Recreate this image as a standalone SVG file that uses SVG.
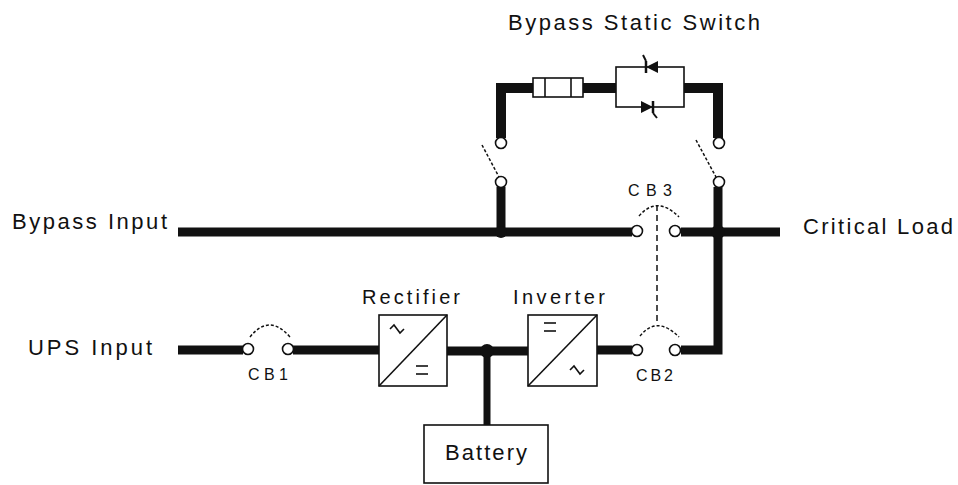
<svg xmlns="http://www.w3.org/2000/svg" width="958" height="485" viewBox="0 0 958 485">
<style>
  text { font-family: "Liberation Sans", Arial, sans-serif; fill: #111; }
  .lbl { font-size: 22px; }
  .mid { font-size: 20px; }
  .cb { font-size: 16px; }
  .bus { fill: none; stroke: #111; stroke-width: 9; stroke-linejoin: miter; stroke-linecap: butt; }
  .top { fill: none; stroke: #111; stroke-width: 10; stroke-linejoin: miter; }
  .thin { fill: #fff; stroke: #111; stroke-width: 1.6; }
  .term { fill: #fff; stroke: #111; stroke-width: 1.6; }
  .dash { fill: none; stroke: #111; stroke-width: 1.5; stroke-dasharray: 3 2; }
  .dash2 { fill: none; stroke: #111; stroke-width: 1.5; stroke-dasharray: 6 4; }
  .sym { fill: none; stroke: #111; stroke-width: 1.6; }
  .dot { fill: #111; }
</style>
<rect width="958" height="485" fill="#fff"/>

<g id="connectors">
  <path class="bus" d="M178 232 H632"/>
  <path class="bus" d="M681 232 H780"/>
  <path class="bus" d="M178 350 H243"/>
  <path class="bus" d="M293 350 H379"/>
  <path class="bus" d="M447 351 H528"/>
  <path class="bus" d="M597 350 H632"/>
  <path class="bus" d="M681 350 H718 V187"/>
  <path class="bus" d="M501 187 V232"/>
  <path class="bus" style="stroke-width:7" d="M487 351 V425"/>
  <path class="top" d="M501 138 V88 H533"/>
  <path class="top" d="M583 88 H616"/>
  <path class="top" d="M684 88 H718 V138"/>
  <path class="dash2" d="M657 205 V323"/>
  <circle class="dot" cx="501" cy="232" r="6"/>
  <circle class="dot" cx="718" cy="232" r="7"/>
  <circle class="dot" cx="487" cy="351" r="7"/>
</g>

<g id="label-bypass-static-switch">
  <text class="lbl" x="508" y="30" textLength="252" lengthAdjust="spacing">Bypass Static Switch</text>
</g>
<g id="label-bypass-input">
  <text class="lbl" x="12" y="229" textLength="155" lengthAdjust="spacing">Bypass Input</text>
</g>
<g id="label-ups-input">
  <text class="lbl" x="28" y="355" textLength="124" lengthAdjust="spacing">UPS Input</text>
</g>
<g id="label-critical-load">
  <text class="lbl" x="803" y="234" textLength="150" lengthAdjust="spacing">Critical Load</text>
</g>

<g id="fuse">
  <rect class="thin" x="533" y="78" width="50" height="19"/>
  <line class="sym" x1="545" y1="78" x2="545" y2="97"/>
  <line class="sym" x1="571" y1="78" x2="571" y2="97"/>
</g>

<g id="static-switch">
  <rect class="thin" x="616" y="67" width="68" height="40"/>
  <line x1="646" y1="61" x2="646" y2="73" stroke="#111" stroke-width="2.5"/>
  <polygon class="dot" points="646,67 658,61 658,73"/>
  <line x1="646" y1="61" x2="643" y2="55" stroke="#111" stroke-width="2"/>
  <line x1="653" y1="101" x2="653" y2="113" stroke="#111" stroke-width="2.5"/>
  <polygon class="dot" points="653,107 641,101 641,113"/>
  <line x1="653" y1="113" x2="657" y2="118" stroke="#111" stroke-width="2"/>
</g>

<g id="switch-left">
  <circle class="term" cx="501" cy="143" r="5.5"/>
  <circle class="term" cx="501" cy="182" r="5.5"/>
  <line class="dash" x1="482" y1="145" x2="499" y2="177"/>
</g>

<g id="switch-right">
  <circle class="term" cx="719" cy="143" r="5.5"/>
  <circle class="term" cx="719" cy="182" r="5.5"/>
  <line class="dash" x1="696" y1="140" x2="716" y2="177"/>
</g>

<g id="cb3">
  <circle class="term" cx="637" cy="231" r="5.5"/>
  <circle class="term" cx="675" cy="231" r="5.5"/>
  <path class="dash" d="M639 216 Q657 195 679 217"/>
  <text class="cb" x="628" y="196" textLength="44" lengthAdjust="spacing">CB3</text>
</g>

<g id="cb1">
  <circle class="term" cx="248" cy="349" r="5.5"/>
  <circle class="term" cx="288" cy="349" r="5.5"/>
  <path class="dash" d="M250 337 Q269 313 290 337"/>
  <text class="cb" x="248" y="380" textLength="40" lengthAdjust="spacing">CB1</text>
</g>

<g id="cb2">
  <circle class="term" cx="637" cy="350" r="5.5"/>
  <circle class="term" cx="675" cy="350" r="5.5"/>
  <path class="dash" d="M640 336 Q657 315 679 337"/>
  <text class="cb" x="636" y="381" textLength="37" lengthAdjust="spacing">CB2</text>
</g>

<g id="rectifier">
  <rect class="thin" x="379" y="315" width="68" height="71"/>
  <line class="sym" x1="379" y1="386" x2="447" y2="315"/>
  <path class="sym" d="M390 329 L394 325 L400 333 L404 329"/>
  <line class="sym" x1="416" y1="366" x2="428" y2="366"/>
  <line class="sym" x1="416" y1="374" x2="428" y2="374"/>
  <text class="mid" x="362" y="304" textLength="98" lengthAdjust="spacing">Rectifier</text>
</g>

<g id="inverter">
  <rect class="thin" x="528" y="315" width="69" height="71"/>
  <line class="sym" x1="528" y1="386" x2="597" y2="315"/>
  <line class="sym" x1="544" y1="323" x2="556" y2="323"/>
  <line class="sym" x1="544" y1="331" x2="556" y2="331"/>
  <path class="sym" d="M570 370 L574 366 L580 374 L584 370"/>
  <text class="mid" x="513" y="304" textLength="92" lengthAdjust="spacing">Inverter</text>
</g>

<g id="battery">
  <rect class="thin" x="424" y="425" width="124" height="58"/>
  <text class="lbl" x="445" y="460" textLength="82" lengthAdjust="spacing">Battery</text>
</g>
</svg>
